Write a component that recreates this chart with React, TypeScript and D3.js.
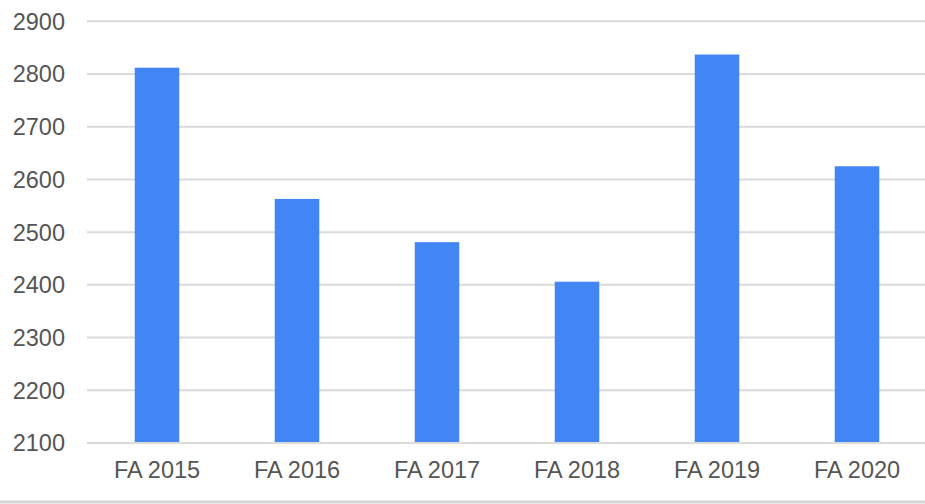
import React from 'react';
import * as d3 from 'd3';

const categories = ['FA 2015', 'FA 2016', 'FA 2017', 'FA 2018', 'FA 2019', 'FA 2020'];
const values = [2812, 2563, 2481, 2406, 2837, 2625];
const yTicks = [2100, 2200, 2300, 2400, 2500, 2600, 2700, 2800, 2900];

const App = () => {
    const width = 925, height = 504;
    const left = 87, right = 927, top = 21.3, bottom = 443;

    const x = d3.scaleBand().domain(categories).range([left, right]).paddingInner(0.682).paddingOuter(0.341);
    const y = d3.scaleLinear().domain([2100, 2900]).range([bottom, top]);
    const font = 'Arial, "Liberation Sans", sans-serif';

    return (
        <svg width={width} height={height} style={{ position: 'absolute', left: 0, top: 0, background: '#fff' }}>
            {yTicks.map(t => (
                <g key={t}>
                    <line x1={left} x2={width} y1={y(t)} y2={y(t)} stroke="#dadada" strokeWidth={2} />
                    <text x={65} y={y(t)} dy="0.36em" textAnchor="end" fontFamily={font} fontSize={23.5} fill="#555">{t}</text>
                </g>
            ))}
            {categories.map((c, i) => (
                <rect key={c} x={x(c)} y={y(values[i])} width={x.bandwidth()} height={bottom - 1 - y(values[i])} fill="#4285f4" />
            ))}
            {categories.map(c => (
                <text key={c} x={(x(c) as number) + x.bandwidth() / 2} y={478} textAnchor="middle" fontFamily={font} fontSize={23.5} fill="#555">{c}</text>
            ))}
            <line x1={0} x2={width} y1={502} y2={502} stroke="#d5d5d5" strokeWidth={3} />
        </svg>
    );
};

export default App;
